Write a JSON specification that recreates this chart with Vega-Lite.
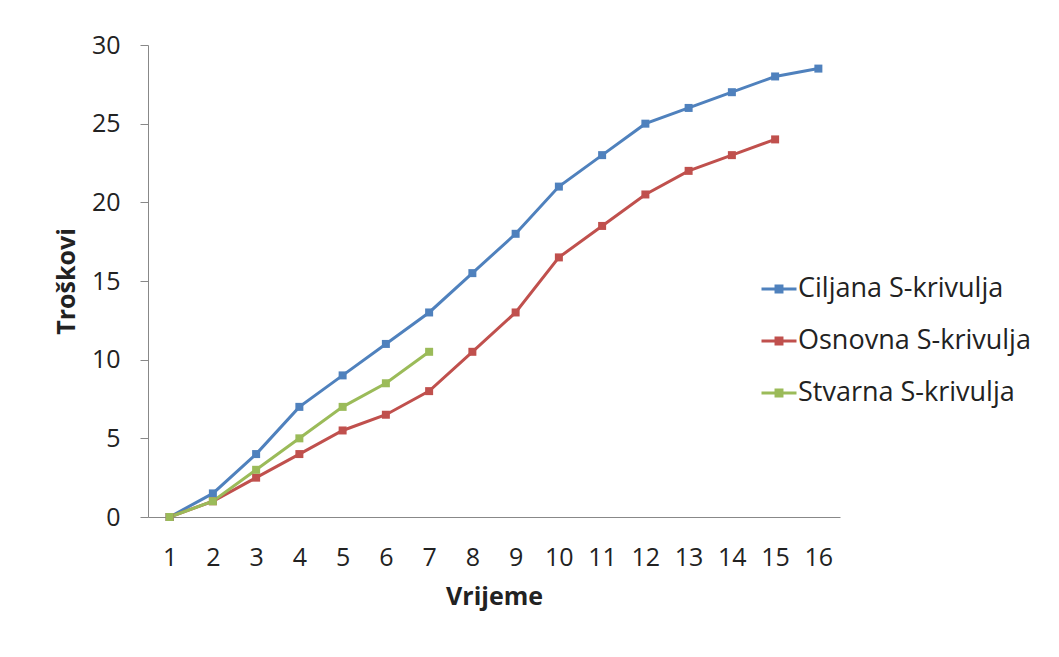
{
  "$schema": "https://vega.github.io/schema/vega-lite/v6.json",
  "width": 692,
  "height": 472,
  "autosize": {"type": "none"},
  "padding": {"left": 148, "top": 45, "right": 219, "bottom": 140},
  "background": "white",
  "config": {
    "view": {"stroke": null},
    "font": "Open Sans",
    "axis": {"grid": false, "domainColor": "#888888", "tickColor": "#888888", "labelColor": "#222222", "titleColor": "#222222"}
  },
  "data": {
    "values": [
      {"t": 1, "s": "Ciljana S-krivulja", "v": 0},
      {"t": 2, "s": "Ciljana S-krivulja", "v": 1.5},
      {"t": 3, "s": "Ciljana S-krivulja", "v": 4},
      {"t": 4, "s": "Ciljana S-krivulja", "v": 7},
      {"t": 5, "s": "Ciljana S-krivulja", "v": 9},
      {"t": 6, "s": "Ciljana S-krivulja", "v": 11},
      {"t": 7, "s": "Ciljana S-krivulja", "v": 13},
      {"t": 8, "s": "Ciljana S-krivulja", "v": 15.5},
      {"t": 9, "s": "Ciljana S-krivulja", "v": 18},
      {"t": 10, "s": "Ciljana S-krivulja", "v": 21},
      {"t": 11, "s": "Ciljana S-krivulja", "v": 23},
      {"t": 12, "s": "Ciljana S-krivulja", "v": 25},
      {"t": 13, "s": "Ciljana S-krivulja", "v": 26},
      {"t": 14, "s": "Ciljana S-krivulja", "v": 27},
      {"t": 15, "s": "Ciljana S-krivulja", "v": 28},
      {"t": 16, "s": "Ciljana S-krivulja", "v": 28.5},
      {"t": 1, "s": "Osnovna S-krivulja", "v": 0},
      {"t": 2, "s": "Osnovna S-krivulja", "v": 1},
      {"t": 3, "s": "Osnovna S-krivulja", "v": 2.5},
      {"t": 4, "s": "Osnovna S-krivulja", "v": 4},
      {"t": 5, "s": "Osnovna S-krivulja", "v": 5.5},
      {"t": 6, "s": "Osnovna S-krivulja", "v": 6.5},
      {"t": 7, "s": "Osnovna S-krivulja", "v": 8},
      {"t": 8, "s": "Osnovna S-krivulja", "v": 10.5},
      {"t": 9, "s": "Osnovna S-krivulja", "v": 13},
      {"t": 10, "s": "Osnovna S-krivulja", "v": 16.5},
      {"t": 11, "s": "Osnovna S-krivulja", "v": 18.5},
      {"t": 12, "s": "Osnovna S-krivulja", "v": 20.5},
      {"t": 13, "s": "Osnovna S-krivulja", "v": 22},
      {"t": 14, "s": "Osnovna S-krivulja", "v": 23},
      {"t": 15, "s": "Osnovna S-krivulja", "v": 24},
      {"t": 1, "s": "Stvarna S-krivulja", "v": 0},
      {"t": 2, "s": "Stvarna S-krivulja", "v": 1},
      {"t": 3, "s": "Stvarna S-krivulja", "v": 3},
      {"t": 4, "s": "Stvarna S-krivulja", "v": 5},
      {"t": 5, "s": "Stvarna S-krivulja", "v": 7},
      {"t": 6, "s": "Stvarna S-krivulja", "v": 8.5},
      {"t": 7, "s": "Stvarna S-krivulja", "v": 10.5}
    ]
  },
  "encoding": {
    "x": {
      "field": "t", "type": "ordinal",
      "scale": {"type": "point", "padding": 0.5},
      "axis": {"title": "Vrijeme", "labelAngle": 0, "ticks": false, "labelPadding": 28, "labelFontSize": 25, "titleFontSize": 25, "titleFontWeight": "bold", "titlePadding": 14}
    },
    "y": {
      "field": "v", "type": "quantitative",
      "scale": {"domain": [0, 30]},
      "axis": {"title": "Troškovi", "values": [0, 5, 10, 15, 20, 25, 30], "tickSize": 8, "labelPadding": 20, "labelFontSize": 25, "titleFontSize": 25, "titleFontWeight": "bold", "titlePadding": 12}
    },
    "color": {
      "field": "s", "type": "nominal",
      "scale": {"domain": ["Ciljana S-krivulja", "Osnovna S-krivulja", "Stvarna S-krivulja"], "range": ["#4F81BD", "#C0504D", "#9BBB59"]},
      "legend": {
        "title": null, "orient": "none", "legendX": 612, "legendY": 225,
        "symbolType": "M-1,0H1M-0.17,-0.17H0.17V0.17H-0.17Z", "symbolSize": 1225, "symbolStrokeWidth": 3,
        "labelFontSize": 27, "labelColor": "#222222", "rowPadding": 20, "labelOffset": 0, "labelLimit": 400
      }
    }
  },
  "layer": [
    {"mark": {"type": "line", "strokeWidth": 3}},
    {"mark": {"type": "point", "shape": "square", "filled": true, "size": 64, "opacity": 1}}
  ]
}
